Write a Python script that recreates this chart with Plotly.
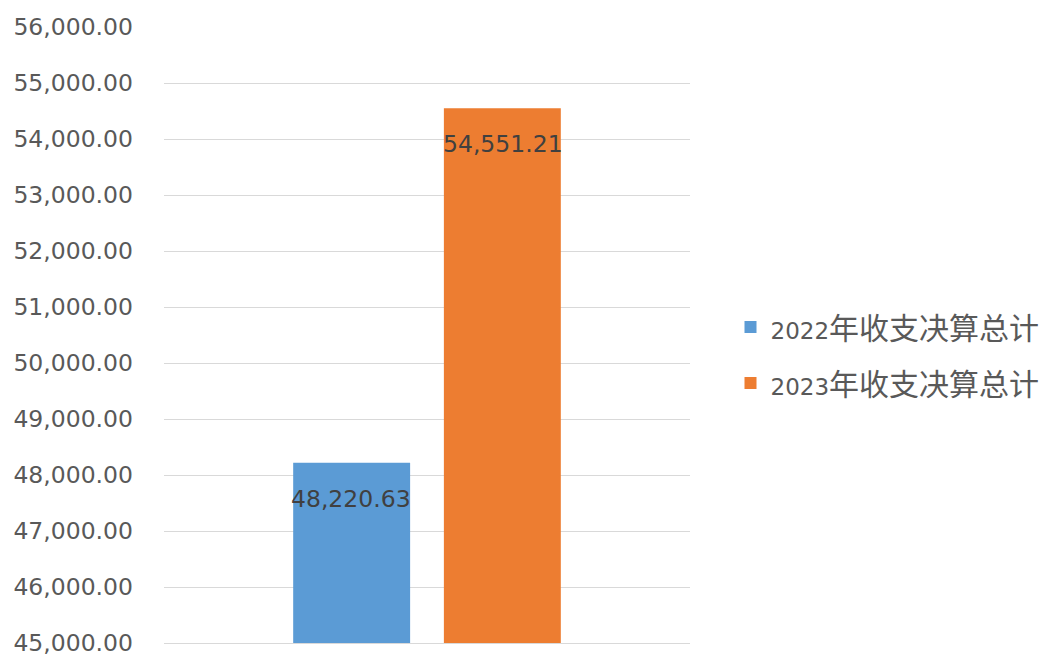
import plotly.graph_objects as go

categories = ["总计"]
series_years = ["2022", "2023"]
series_suffix = "年收支决算总计"
series_names = [y + series_suffix for y in series_years]
series_values = [[48220.63], [54551.21]]
colors = ["#5B9BD5", "#ED7D31"]
tick_values = list(range(45000, 56001, 1000))
tick_labels = [f"{v:,.2f}" for v in tick_values]

PLOT_W = 531
BARGAP = 0.427

fig = go.Figure()
for i, (yr, vals) in enumerate(zip(series_years, series_values)):
    display = ("<span style='font-family:DejaVu Sans;font-size:23px'>" + yr
               + "</span>" + series_suffix)
    fig.add_trace(go.Bar(
        x=categories, y=vals, name=display, marker_color=colors[i],
        marker_line_width=0, legendgroup=series_names[i],
        hovertext=series_names[i],
    ))

# data labels placed just inside the bar ends (Excel "inside end" style)
n = len(series_names)
slot = (1 - BARGAP) / n
for i, vals in enumerate(series_values):
    for c, v in zip(categories, vals):
        fig.add_annotation(
            x=c, y=v, xref="x", yref="y", text=f"{v:,.2f}", showarrow=False,
            xshift=(i - (n - 1) / 2) * slot * PLOT_W, yshift=-36,
            font=dict(family="DejaVu Sans", size=23.5, color="#404040"),
        )

fig.update_layout(
    width=1049, height=657,
    margin=dict(l=156, r=362, t=19, b=22),
    paper_bgcolor="white", plot_bgcolor="white",
    barmode="group", bargap=BARGAP, bargroupgap=0.224,
    font=dict(family="DejaVu Sans, Noto Sans CJK SC", color="#595959"),
    yaxis=dict(
        range=[45000, 56000], tickvals=tick_values, ticktext=tick_labels,
        showgrid=True, gridcolor="#D9D9D9", gridwidth=1.3, zeroline=False,
        showline=False, ticks="", ticklabelstandoff=30, automargin=False,
        tickfont=dict(family="DejaVu Sans", size=23.5, color="#595959"),
    ),
    xaxis=dict(showticklabels=False, showgrid=False, showline=True,
               linecolor="#D9D9D9", linewidth=1.3, automargin=False),
    legend=dict(x=1.077, y=0.4675, xanchor="left", yanchor="middle",
                font=dict(family="Noto Sans CJK SC", size=30,
                          color="#595959"),
                traceorder="grouped", tracegroupgap=14, itemwidth=30),
    showlegend=True,
)

fig.write_html("out.html")
